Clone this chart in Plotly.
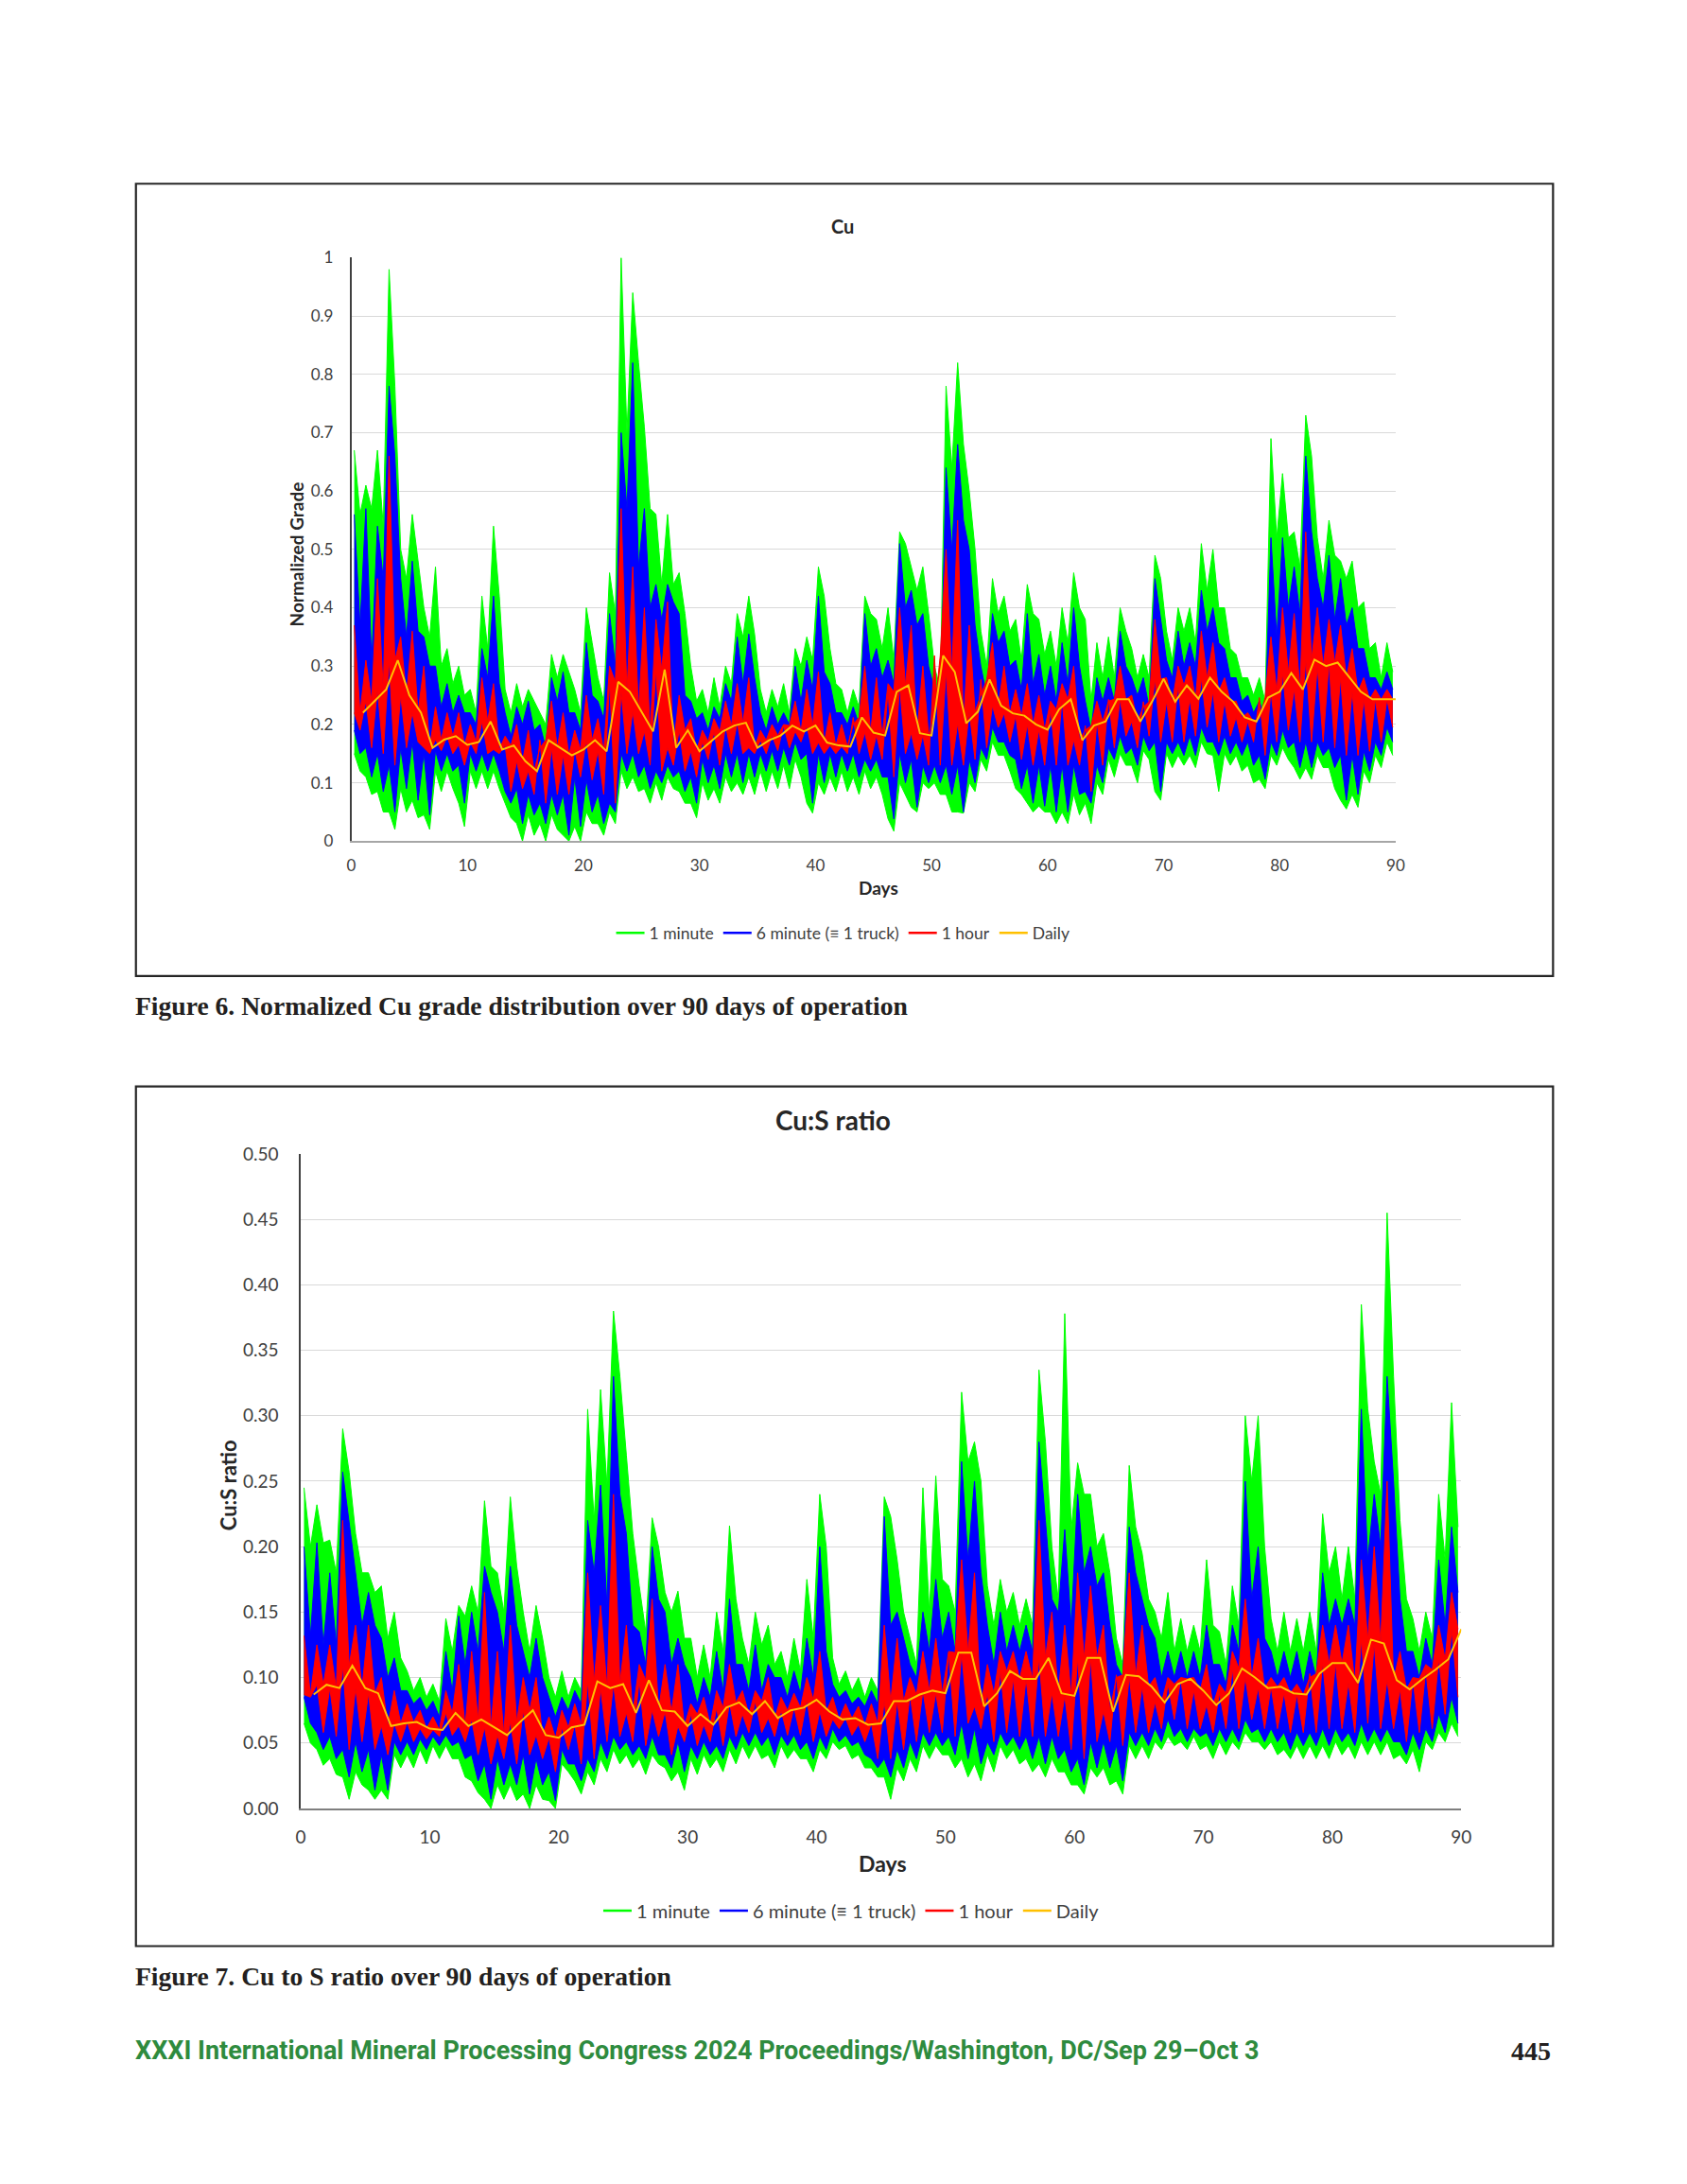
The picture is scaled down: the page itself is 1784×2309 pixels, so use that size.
import plotly.graph_objects as go

W, H = 1784, 2309

# ---------------- data ----------------
days = list(range(90))            # day intervals (0..89)
daily_days = list(range(1, 91))   # daily averages at day 1..90
x_ticks = [0, 10, 20, 30, 40, 50, 60, 70, 80, 90]
cu_y_ticks = [0, 0.1, 0.2, 0.3, 0.4, 0.5, 0.6, 0.7, 0.8, 0.9, 1]
cu_y_labels = ["0", "0.1", "0.2", "0.3", "0.4", "0.5", "0.6", "0.7", "0.8", "0.9", "1"]
cus_y_ticks = [0, 0.05, 0.10, 0.15, 0.20, 0.25, 0.30, 0.35, 0.40, 0.45, 0.50]
series_names = ["1 minute", "6 minute (\u2261 1 truck)", "1 hour", "Daily"]

# Figure 6 - normalized Cu grade (per-day max / min)
cu_1min_hi = [.67, .61, .67, .98, .50, .56, .40, .47, .33, .30,
              .26, .42, .54, .26, .27, .26, .22, .32, .32, .26,
              .40, .28, .46, 1.0, .94, .71, .56, .56, .46, .30,
              .26, .28, .30, .39, .42, .26, .26, .27, .33, .35,
              .47, .33, .26, .26, .42, .38, .40, .53, .47, .47,
              .30, .78, .82, .60, .36, .45, .42, .38, .44, .38,
              .36, .40, .46, .38, .34, .35, .40, .33, .32, .49,
              .36, .40, .40, .51, .50, .40, .32, .28, .28, .69,
              .63, .53, .73, .52, .55, .48, .48, .41, .34, .34]
cu_1min_lo = [.12, .08, .05, .02, .05, .04, .02, .085, .09, .025,
              .09, .09, .09, .04, .0, .01, .0, .02, .0, .0,
              .03, .01, .03, .09, .085, .065, .07, .09, .065, .04,
              .07, .065, .085, .08, .08, .085, .09, .09, .11, .048,
              .08, .085, .085, .08, .09, .08, .017, .08, .05, .09,
              .08, .05, .048, .085, .12, .147, .12, .08, .05, .05,
              .03, .03, .045, .03, .08, .11, .13, .10, .14, .07,
              .126, .13, .126, .15, .085, .13, .12, .10, .09, .13,
              .14, .106, .106, .126, .09, .055, .058, .10, .126, .147]
cu_6min_hi = [.56, .57, .54, .78, .45, .48, .35, .30, .27, .25,
              .22, .33, .42, .22, .23, .24, .20, .28, .29, .22,
              .34, .24, .39, .70, .82, .57, .44, .44, .39, .24,
              .22, .23, .27, .35, .355, .22, .23, .22, .30, .31,
              .42, .27, .22, .23, .39, .33, .31, .51, .43, .39,
              .26, .64, .68, .50, .30, .39, .36, .31, .39, .32,
              .30, .34, .40, .24, .28, .28, .36, .28, .28, .45,
              .31, .36, .34, .43, .40, .33, .28, .25, .24, .52,
              .52, .47, .66, .45, .49, .45, .40, .33, .28, .29]
cu_6min_lo = [.15, .11, .085, .05, .09, .07, .045, .12, .12, .065,
              .12, .12, .12, .065, .03, .045, .03, .045, .01, .025,
              .05, .03, .05, .12, .11, .09, .10, .11, .085, .065,
              .10, .09, .11, .10, .11, .12, .12, .13, .14, .065,
              .10, .11, .12, .11, .12, .11, .038, .10, .058, .10,
              .10, .08, .05, .10, .14, .17, .147, .09, .065, .06,
              .05, .05, .08, .065, .10, .14, .15, .13, .155, .085,
              .15, .147, .147, .17, .147, .15, .147, .13, .106, .147,
              .16, .126, .126, .147, .126, .07, .08, .12, .147, .17]
cu_1hr_hi = [.37, .31, .45, .66, .35, .36, .30, .23, .22, .22,
             .20, .28, .27, .18, .20, .19, .16, .24, .22, .19,
             .25, .21, .30, .57, .47, .40, .38, .41, .25, .21,
             .19, .21, .24, .27, .28, .19, .20, .20, .24, .26,
             .29, .22, .20, .20, .30, .28, .27, .40, .37, .30,
             .22, .50, .55, .37, .25, .34, .30, .26, .27, .25,
             .24, .27, .30, .19, .24, .24, .30, .25, .23, .38,
             .28, .30, .30, .36, .34, .28, .24, .22, .21, .35,
             .40, .39, .53, .40, .38, .37, .33, .28, .26, .26]
cu_1hr_lo = [.19, .16, .15, .13, .16, .17, .15, .155, .15, .13,
             .15, .15, .15, .085, .09, .08, .065, .08, .08, .11,
             .105, .08, .065, .15, .15, .13, .12, .13, .12, .11,
             .14, .13, .15, .15, .15, .15, .155, .16, .17, .15,
             .15, .15, .15, .15, .14, .14, .11, .15, .14, .13,
             .13, .13, .13, .14, .16, .195, .17, .14, .13, .13,
             .13, .13, .13, .085, .13, .16, .18, .16, .18, .17,
             .17, .17, .18, .195, .17, .18, .17, .17, .147, .17,
             .19, .17, .17, .17, .16, .147, .147, .154, .17, .195]
cu_daily = [.22, .24, .26, .31, .25, .22, .16, .174, .18, .165,
            .17, .205, .157, .164, .137, .12, .173, .16, .147, .157,
            .173, .154, .273, .256, .222, .188, .294, .16, .19, .154,
            .171, .188, .198, .203, .16, .173, .181, .198, .188, .198,
            .169, .164, .162, .212, .186, .181, .256, .267, .185, .181,
            .318, .29, .202, .222, .277, .232, .219, .215, .2, .191,
            .226, .243, .173, .198, .205, .243, .243, .205, .239, .278,
            .239, .267, .244, .28, .256, .239, .212, .205, .246, .256,
            .288, .26, .311, .30, .306, .28, .256, .243, .243, .243]

# Figure 7 - Cu:S ratio
cus_1min_hi = [.245, .232, .205, .29, .21, .18, .17, .15, .105, .10,
               .095, .145, .155, .17, .235, .18, .238, .15, .155, .10,
               .105, .10, .305, .32, .38, .27, .17, .222, .165, .166,
               .13, .125, .15, .216, .13, .15, .14, .12, .13, .175,
               .24, .115, .105, .10, .10, .238, .19, .13, .245, .254,
               .17, .318, .28, .17, .175, .165, .16, .335, .20, .378,
               .264, .24, .21, .13, .262, .195, .15, .165, .145, .14,
               .19, .135, .17, .30, .30, .145, .15, .145, .15, .225,
               .20, .20, .385, .265, .455, .22, .145, .15, .24, .31]
cus_1min_lo = [.05, .033, .026, .007, .018, .007, .007, .031, .031, .034,
               .038, .038, .024, .012, .0, .007, .006, .0, .007, .0,
               .028, .011, .018, .028, .034, .031, .026, .034, .021, .014,
               .026, .031, .028, .034, .038, .038, .031, .038, .038, .028,
               .038, .045, .038, .031, .024, .007, .021, .028, .038, .041,
               .031, .024, .021, .028, .038, .034, .028, .024, .028, .018,
               .011, .024, .018, .011, .038, .038, .045, .048, .045, .045,
               .038, .041, .045, .051, .045, .041, .038, .038, .038, .038,
               .041, .038, .041, .041, .038, .034, .028, .045, .051, .055]
cus_6min_hi = [.20, .203, .18, .257, .18, .165, .13, .115, .09, .085,
               .082, .12, .147, .15, .185, .15, .185, .12, .13, .085,
               .085, .09, .22, .247, .33, .21, .135, .20, .15, .13,
               .10, .10, .12, .16, .11, .125, .11, .10, .105, .13,
               .20, .095, .09, .085, .09, .223, .15, .11, .15, .175,
               .15, .265, .25, .14, .15, .14, .14, .28, .16, .213,
               .24, .20, .18, .11, .215, .16, .13, .12, .12, .12,
               .14, .11, .14, .25, .20, .12, .12, .12, .12, .18,
               .16, .16, .305, .24, .33, .16, .12, .13, .19, .215]
cus_6min_lo = [.065, .045, .038, .024, .028, .014, .014, .041, .041, .045,
               .048, .048, .038, .021, .007, .018, .018, .011, .018, .006,
               .034, .021, .028, .038, .045, .041, .038, .041, .031, .028,
               .038, .041, .038, .045, .048, .048, .041, .048, .045, .038,
               .045, .051, .048, .041, .031, .024, .031, .038, .048, .048,
               .041, .038, .034, .041, .048, .045, .038, .034, .038, .028,
               .018, .031, .031, .021, .048, .048, .051, .055, .051, .055,
               .048, .051, .051, .058, .051, .051, .045, .048, .048, .048,
               .051, .048, .051, .051, .051, .041, .045, .051, .058, .065]
cus_1hr_hi = [.132, .125, .125, .22, .14, .14, .10, .09, .08, .075,
              .07, .09, .11, .12, .165, .12, .14, .10, .10, .07,
              .075, .08, .18, .155, .24, .14, .11, .16, .11, .11,
              .08, .085, .09, .11, .09, .09, .10, .085, .088, .10,
              .12, .085, .08, .078, .08, .14, .13, .10, .12, .13,
              .12, .19, .18, .11, .12, .12, .12, .22, .15, .14,
              .18, .17, .14, .10, .18, .14, .10, .10, .10, .10,
              .11, .095, .12, .16, .13, .10, .10, .095, .10, .14,
              .14, .14, .19, .20, .25, .12, .10, .11, .14, .165]
cus_1hr_lo = [.085, .058, .055, .045, .051, .045, .041, .051, .051, .053,
              .055, .056, .051, .041, .034, .038, .034, .041, .038, .028,
              .045, .034, .038, .051, .055, .051, .048, .055, .041, .051,
              .048, .051, .048, .055, .058, .058, .055, .056, .056, .051,
              .055, .061, .056, .051, .038, .038, .045, .051, .058, .058,
              .055, .065, .061, .051, .058, .055, .055, .055, .055, .045,
              .038, .051, .051, .048, .058, .058, .061, .068, .061, .061,
              .058, .061, .061, .068, .061, .061, .058, .058, .058, .061,
              .061, .058, .065, .061, .061, .051, .058, .061, .072, .085]
cus_daily = [.087, .0945, .092, .109, .092, .088, .063, .065, .066, .061,
             .060, .073, .063, .068, .062, .056, .066, .075, .056, .054,
             .062, .064, .097, .092, .095, .073, .098, .075, .074, .063,
             .072, .064, .077, .081, .072, .082, .069, .075, .077, .083,
             .074, .068, .069, .064, .065, .082, .082, .087, .09, .088,
             .119, .119, .078, .088, .105, .099, .099, .115, .088, .086,
             .115, .115, .074, .102, .101, .093, .081, .095, .099, .09,
             .079, .088, .107, .10, .092, .093, .088, .087, .103, .111,
             .111, .096, .129, .126, .098, .091, .099, .106, .114, .137]

# ---------------- styling ----------------
GREEN, BLUE, RED, GOLD = "#00ff00", "#0000ff", "#ff0000", "#ffc000"
SANS = "Lato, Open Sans, sans-serif"
SERIF = "Liberation Serif, DejaVu Serif, serif"


def px(x):
    return x / W


def py(y):
    return 1 - y / H


fig = go.Figure()

# positions inside each day: the series' own extreme at one quarter,
# the next-smoother series' value at three quarters -> spiky band edges
zig_x = []
for d in days:
    zig_x += [d + 0.25, d + 0.75]


def pair(a, b):
    out = []
    for u, v in zip(a, b):
        out += [u, v]
    return out


def add_band(upper, lower, color, xa, ya):
    fig.add_trace(go.Scatter(x=zig_x, y=upper, mode="lines", line=dict(color=color, width=1),
                             showlegend=False, xaxis=xa, yaxis=ya, hoverinfo="skip"))
    fig.add_trace(go.Scatter(x=zig_x, y=lower, mode="lines", line=dict(color=color, width=1),
                             fill="tonexty", fillcolor=color, showlegend=False,
                             xaxis=xa, yaxis=ya, hoverinfo="skip"))


def add_chart(g_hi, g_lo, b_hi, b_lo, r_hi, r_lo, daily, xa, ya, lg):
    add_band(pair(g_hi, b_hi), pair(b_lo, g_lo), GREEN, xa, ya)   # 1 minute
    add_band(pair(b_hi, r_hi), pair(r_lo, b_lo), BLUE, xa, ya)    # 6 minute
    add_band(pair(r_hi, daily), pair(daily, r_lo), RED, xa, ya)   # 1 hour
    fig.add_trace(go.Scatter(x=daily_days, y=daily, mode="lines",
                             line=dict(color=GOLD, width=2), showlegend=False,
                             xaxis=xa, yaxis=ya))
    # legend entries (line samples)
    for nm, col in zip(series_names, [GREEN, BLUE, RED, GOLD]):
        fig.add_trace(go.Scatter(x=[None], y=[None], mode="lines", name=nm,
                                 line=dict(color=col, width=2.5), legend=lg,
                                 xaxis=xa, yaxis=ya))


add_chart(cu_1min_hi, cu_1min_lo, cu_6min_hi, cu_6min_lo, cu_1hr_hi, cu_1hr_lo, cu_daily,
          "x", "y", "legend")
add_chart(cus_1min_hi, cus_1min_lo, cus_6min_hi, cus_6min_lo, cus_1hr_hi, cus_1hr_lo,
          cus_daily, "x2", "y2", "legend2")

# plot areas (pixel positions on the page)
C1 = dict(l=361, r=1476, t=255, b=878)
C2 = dict(l=307, r=1546, t=1212, b=1911)

axis_common = dict(showgrid=True, gridcolor="#d9d9d9", gridwidth=1, zeroline=False,
                   ticks="", showline=True)

fig.update_layout(
    width=W, height=H, margin=dict(l=0, r=0, t=0, b=0),
    paper_bgcolor="white", plot_bgcolor="white", showlegend=True,
    xaxis=dict(domain=[px(C1["l"]), px(C1["r"])], range=[0, 90], tickvals=x_ticks,
               anchor="y", showgrid=False, zeroline=False, showline=True, linecolor="#a6a6a6",
               linewidth=1.5, ticks="", tickfont=dict(family=SANS, size=17, color="#404040"),
               ticklabelstandoff=10),
    yaxis=dict(domain=[py(C1["b"]), py(C1["t"])], range=[0, 1], tickvals=cu_y_ticks,
               ticktext=cu_y_labels, anchor="x", linecolor="#404040", linewidth=1.5,
               tickfont=dict(family=SANS, size=17, color="#404040"), ticklabelstandoff=14,
               **axis_common),
    xaxis2=dict(domain=[px(C2["l"]), px(C2["r"])], range=[0, 90], tickvals=x_ticks,
                anchor="y2", showgrid=False, zeroline=False, showline=True, linecolor="#7f7f7f",
                linewidth=1.5, ticks="", tickfont=dict(family=SANS, size=19, color="#404040"),
                ticklabelstandoff=12),
    yaxis2=dict(domain=[py(C2["b"]), py(C2["t"])], range=[0, 0.5], tickvals=cus_y_ticks,
                tickformat=".2f", anchor="x2", linecolor="#404040", linewidth=1.5,
                tickfont=dict(family=SANS, size=19, color="#404040"), ticklabelstandoff=18,
                **axis_common),
    legend=dict(orientation="h", x=px(886), y=py(976), xanchor="center", yanchor="middle",
                font=dict(family=SANS, size=17.5, color="#404040"), itemwidth=30,
                traceorder="normal", bgcolor="rgba(0,0,0,0)"),
    legend2=dict(orientation="h", x=px(895), y=py(2020), xanchor="center", yanchor="middle",
                 font=dict(family=SANS, size=20, color="#404040"), itemwidth=30,
                 traceorder="normal", bgcolor="rgba(0,0,0,0)"),
)

# frames around the two charts
for (x0, y0, x1, y1) in [(131, 176, 1644, 1022), (131, 1140, 1644, 2058)]:
    fig.add_shape(type="rect", xref="paper", yref="paper", x0=px(x0), x1=px(x1),
                  y0=py(y1), y1=py(y0), line=dict(color="#262626", width=2.2),
                  fillcolor="rgba(0,0,0,0)", layer="above")


def note(text, x, y, size, family=SANS, color="#262626", bold=True, xanchor="center",
         textangle=0):
    t = f"<b>{text}</b>" if bold else text
    fig.add_annotation(text=t, x=px(x), y=py(y), xref="paper", yref="paper", showarrow=False,
                       xanchor=xanchor, yanchor="middle", textangle=textangle,
                       font=dict(family=family, size=size, color=color))


# chart titles and axis titles
note("Cu", 885, 221, 20)
note("Days", 924, 928, 19)
note("Normalized Grade", 302, 572, 19, textangle=-90)
note("Cu:S ratio", 875, 1176, 28)
note("Days", 928, 1970, 23)
note("Cu:S ratio", 230, 1566, 22, textangle=-90)

# captions and footer
note("Figure 6. Normalized Cu grade distribution over 90 days of operation", 128, 1054, 27.6,
     family=SERIF, color="#231f20", xanchor="left")
note("Figure 7. Cu to S ratio over 90 days of operation", 128, 2090, 27.6,
     family=SERIF, color="#231f20", xanchor="left")
note("XXXI International Mineral Processing Congress 2024 Proceedings/Washington, DC/Sep 29\u2013Oct 3",
     128, 2170, 27, family="Liberation Sans Narrow, Roboto, sans-serif", color="#2e8b3e",
     xanchor="left")
note("445", 1644, 2170, 28, family=SERIF, color="#231f20", xanchor="right")

fig.write_html("out.html")
